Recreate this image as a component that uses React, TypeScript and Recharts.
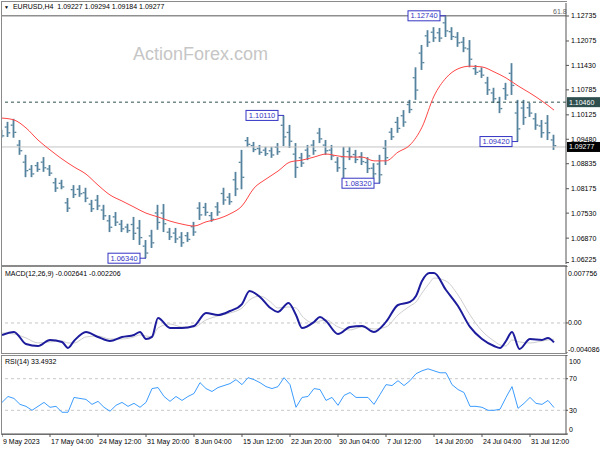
import React from "react";
import { ComposedChart, Bar, Line, XAxis, YAxis, ReferenceLine, ReferenceDot } from "recharts";

// ---- data (sampled every 4th H4 bar) ----
const PRICE_HIGH = [
  1.0973, 1.0994, 1.1002, 1.0946, 1.0907, 1.0880, 1.0888, 1.0901, 1.0880, 1.0846,
  1.0841, 1.0793, 1.0827, 1.0827, 1.0820, 1.0788, 1.0801, 1.0775, 1.0748, 1.0756,
  1.0735, 1.0725, 1.0743, 1.0735, 1.0682, 1.0709, 1.0775, 1.0777, 1.0714, 1.0714,
  1.0703, 1.0703, 1.0730, 1.0782, 1.0780, 1.0756, 1.0782, 1.0820, 1.0806, 1.0862,
  1.0920, 1.0954, 1.0941, 1.0933, 1.0928, 1.0928, 1.0938, 1.1011, 1.0986, 1.0938,
  1.0912, 1.0933, 1.0946, 1.0978, 1.0946, 1.0933, 1.0901, 1.0928, 1.0928, 1.0920,
  1.0914, 1.0901, 1.0885, 1.0907, 1.0946, 1.0978, 1.1007, 1.1025, 1.1052, 1.1138,
  1.1197, 1.1236, 1.1244, 1.1242, 1.1274, 1.1244, 1.1231, 1.1218, 1.1210, 1.1144,
  1.1138, 1.1113, 1.1084, 1.1060, 1.1097, 1.1149, 1.1052, 1.1052, 1.1044, 1.1017,
  1.0999, 1.1012, 1.0960,
];
const PRICE_LOW = [
  1.0952, 1.0954, 1.0952, 1.0907, 1.0848, 1.0848, 1.0862, 1.0862, 1.0851, 1.0809,
  1.0816, 1.0756, 1.0793, 1.0796, 1.0782, 1.0756, 1.0761, 1.0735, 1.0703, 1.0719,
  1.0703, 1.0701, 1.0682, 1.0669, 1.0634, 1.0661, 1.0709, 1.0703, 1.0682, 1.0674,
  1.0664, 1.0677, 1.0693, 1.0735, 1.0746, 1.0730, 1.0746, 1.0775, 1.0775, 1.0798,
  1.0816, 1.0928, 1.0914, 1.0907, 1.0904, 1.0899, 1.0907, 1.0930, 1.0925, 1.0846,
  1.0875, 1.0893, 1.0907, 1.0938, 1.0907, 1.0893, 1.0862, 1.0846, 1.0893, 1.0885,
  1.0880, 1.0859, 1.0846, 1.0832, 1.0880, 1.0946, 1.0965, 1.0981, 1.1017, 1.1052,
  1.1131, 1.1192, 1.1205, 1.1205, 1.1218, 1.1210, 1.1192, 1.1178, 1.1138, 1.1118,
  1.1110, 1.1065, 1.1044, 1.1017, 1.1052, 1.1065, 1.0942, 1.0986, 1.1007, 1.0973,
  1.0952, 1.0946, 1.0920,
];
// moving average, every 8th bar
const MA_VALUES = [
  1.1004, 1.0999, 1.0978, 1.0946, 1.0920, 1.0896, 1.0875, 1.0856, 1.0827, 1.0801,
  1.0785, 1.0769, 1.0753, 1.0743, 1.0732, 1.0724, 1.0719, 1.0730, 1.0738, 1.0751,
  1.0772, 1.0819, 1.0843, 1.0864, 1.0888, 1.0893, 1.0901, 1.0909, 1.0904, 1.0901,
  1.0901, 1.0891, 1.0891, 1.0914, 1.0933, 1.0980, 1.1062, 1.1110, 1.1134, 1.1141,
  1.1139, 1.1126, 1.1110, 1.1089, 1.1070, 1.1049, 1.1025,
];
const MACD_BARS = [
  0, 8, 16, 24, 32, 40, 44, 48, 56, 64, 72, 80, 88, 92, 96, 100, 104, 112, 120, 128,
  136, 144, 152, 160, 165, 172, 179, 184, 191, 196, 200, 208, 212, 216, 224, 232, 240,
  248, 256, 264, 272, 276, 280, 285, 288, 296, 304, 312, 320, 328, 332, 336, 340, 345,
  352, 360, 364, 368,
];
const MACD_MAIN = [
  -0.00163, -0.00122, -0.00286, -0.00313, -0.00231, -0.00258, -0.0034, -0.00245, -0.00122, -0.0019,
  -0.00245, -0.0019, -0.00163, -0.00122, -0.00218, -0.0019, 0.00068, -0.00068, -0.00068, -0.00041,
  0.00136, 0.00109, 0.00163, 0.00258, 0.00435, 0.00354, 0.00204, 0.0015, 0.00272, 0.00109,
  -0.00068, 0.00014, 0.00082, 0.00027, -0.0015, -0.00054, -0.00041, -0.00122, 0.00014, 0.00245,
  0.00286, 0.00367, 0.00571, 0.0068, 0.0068, 0.00449, 0.00231, -0.00054, -0.00218, -0.00313,
  -0.0034, -0.00245, -0.00122, -0.00354, -0.00218, -0.00231, -0.00204, -0.00264,
];
const MACD_SIGNAL = [
  -0.00136, -0.0015, -0.00204, -0.00272, -0.00258, -0.00245, -0.00272, -0.00272, -0.0019, -0.00177,
  -0.00218, -0.00218, -0.0019, -0.00163, -0.00177, -0.0019, -0.00068, -0.00014, -0.00054, -0.00054,
  0.00041, 0.00095, 0.00136, 0.00204, 0.00313, 0.00367, 0.00286, 0.00204, 0.00218, 0.00204,
  0.00095, 0.0, 0.00027, 0.00041, -0.00054, -0.00095, -0.00054, -0.00082, -0.00054, 0.00109,
  0.00231, 0.00286, 0.00408, 0.00544, 0.00612, 0.00571, 0.00381, 0.00109, -0.00109, -0.00245,
  -0.00299, -0.00313, -0.00231, -0.00258, -0.00272, -0.00245, -0.00231, -0.00221,
];
// RSI(14), every 4th bar
const RSI_VALUES = [
  40, 47.5, 45, 37.5, 35, 30, 35, 40, 33.8, 35,
  27.5, 27.5, 46.3, 45, 43.8, 37.5, 41.3, 33.8, 28.8, 36.3,
  40, 35, 38.8, 33.8, 40, 57.5, 58.8, 47.5, 41.3, 47.5,
  42.5, 47.5, 51.3, 65, 57.5, 53.8, 58.8, 61.3, 63.8, 68.8,
  62.5, 71.3, 68.8, 65, 60, 57.5, 60, 71.3, 62.5, 33.8,
  46.3, 47.5, 57.5, 56.3, 42.5, 46.3, 36.3, 48.8, 52.5, 46.3,
  46.3, 46.3, 37.5, 50, 62.5, 61.3, 67.5, 61.3, 67.5, 76.3,
  80, 82.5, 80, 77.5, 77.5, 62.5, 56.3, 52.5, 35, 35,
  33.8, 30, 30, 31.3, 46.3, 60, 32.5, 38.8, 46.3, 38.8,
  37.5, 42.5, 33.5,
];
const TIME_TICKS = [0, 32, 64, 96, 128, 160, 192, 224, 256, 288, 320, 352];
const TIME_LABELS = [
  "9 May 2023", "17 May 04:00", "24 May 12:00", "31 May 20:00", "8 Jun 04:00", "15 Jun 12:00",
  "22 Jun 20:00", "30 Jun 04:00", "7 Jul 12:00", "14 Jul 20:00", "24 Jul 04:00", "31 Jul 12:00",
];
const PRICE_TICKS = [1.12735, 1.12075, 1.1143, 1.10785, 1.10125, 1.0948, 1.08835, 1.08175, 1.0753, 1.0687, 1.06225];
const MACD_TICKS = [0.007756, 0, -0.004086];
const RSI_TICKS = [100, 70, 30, 0];
const ANNOT_BARS = [188, 96, 252, 296, 344];
const ANNOT_PRICES = [1.1011, 1.0634, 1.0832, 1.1274, 1.0942];
const FIB_LEVEL = 1.1274;
const RESIST_LEVEL = 1.1046;
const LAST_PRICE = 1.09277;

const STEP = 4;
const priceData = PRICE_HIGH.map((h, i) => ({
  bar: i * STEP,
  range: [PRICE_LOW[i], h],
  ma: i % 2 === 0 ? MA_VALUES[i / 2] : null,
}));
const macdData = MACD_BARS.map((b, i) => ({ bar: b, main: MACD_MAIN[i], signal: MACD_SIGNAL[i] }));
const rsiData = RSI_VALUES.map((v, i) => ({ bar: i * STEP, rsi: v }));

const FONT = '"Liberation Sans", Arial, sans-serif';
const BAR_COLOR = "#55839d";
const ANN_COLOR = "#3434c4";
const AXIS_COLOR = "#555";

const PriceBar = (props: any) => {
  const { x, y, width, height } = props;
  if (x == null || y == null) return null;
  const cx = x + width / 2;
  const top = height < 0 ? y + height : y;
  const h = Math.max(Math.abs(height), 1);
  return (
    <g fill={BAR_COLOR}>
      <rect x={cx - 0.9} y={top} width={1.8} height={h} />
      <rect x={cx - 2.8} y={top + h * 0.3} width={2} height={1.3} />
      <rect x={cx + 0.8} y={top + h * 0.68} width={2} height={1.3} />
    </g>
  );
};

const makeYTick = (fmt: (v: number) => string, shift: (v: number) => number) => (p: any) => (
  <text
    x={p.x}
    y={p.y + shift(p.payload.value)}
    dy={2.5}
    fontSize={7}
    fontFamily={FONT}
    fill="#000"
    textAnchor="start"
  >
    {fmt(p.payload.value)}
  </text>
);

const XTick = (p: any) => {
  const idx = TIME_TICKS.indexOf(p.payload.value);
  return (
    <text x={p.x + 1} y={p.y} dy={7} fontSize={7} fontFamily={FONT} fill="#000" textAnchor="start">
      {TIME_LABELS[idx]}
    </text>
  );
};

const AxisTag = (props: any) => {
  const { viewBox, text, bg } = props;
  if (!viewBox) return null;
  const x = viewBox.x + viewBox.width + 1;
  const y = viewBox.y;
  return (
    <g>
      <rect x={x} y={y - 5} width={33} height={10} fill={bg} />
      <text x={x + 2} y={y + 2.5} fontSize={7} fontFamily={FONT} fill="#fff">
        {text}
      </text>
    </g>
  );
};

const FibLabel = (props: any) => {
  const { viewBox } = props;
  if (!viewBox) return null;
  return (
    <text x={viewBox.x + viewBox.width - 13} y={viewBox.y - 2} fontSize={7} fontFamily={FONT} fill="#666">
      61.8
    </text>
  );
};

const makeAnnot = (label: string) => (p: any) => {
  const { cx, cy } = p;
  if (cx == null || cy == null) return null;
  const right = cx - 6;
  return (
    <g>
      <line x1={right} y1={cy} x2={cx} y2={cy} stroke={ANN_COLOR} strokeWidth={1} />
      <rect x={right - 32} y={cy - 5} width={32} height={10} fill="#fff" stroke={ANN_COLOR} strokeWidth={1} />
      <text x={right - 16} y={cy + 2.5} fontSize={7.5} fontFamily={FONT} fill={ANN_COLOR} textAnchor="middle">
        {label}
      </text>
    </g>
  );
};

const frame = (top: number, height: number): React.CSSProperties => ({
  position: "absolute",
  left: 1,
  top,
  width: 566,
  height,
  boxSizing: "border-box",
  borderLeft: "1px solid #8a8a8a",
  borderTop: "1px solid #8a8a8a",
  borderBottom: "1px solid #8a8a8a",
});

const textStyle = (left: number, top: number, size: number, color: string): React.CSSProperties => ({
  position: "absolute",
  left,
  top,
  fontFamily: FONT,
  fontSize: size,
  color,
  lineHeight: `${size + 1}px`,
  whiteSpace: "nowrap",
});

export default function App() {
  return (
    <div style={{ position: "absolute", left: 0, top: 0, width: 600, height: 450, background: "#fff", overflow: "hidden" }}>
      <div style={frame(1, 265)} />
      <div style={frame(266, 88)} />
      <div style={frame(355, 80)} />
      <div style={textStyle(133, 45, 18, "#c6c6c6")}>ActionForex.com</div>

      <div style={{ position: "absolute", left: 2, top: 3 }}>
        <ComposedChart width={598} height={261} data={priceData} margin={{ top: 0, right: 0, bottom: 0, left: 0 }}>
          <XAxis dataKey="bar" type="number" domain={[0, 376]} hide allowDataOverflow />
          <YAxis
            orientation="right"
            width={34}
            domain={[1.06187, 1.13078]}
            allowDataOverflow
            ticks={PRICE_TICKS}
            interval={0}
            tickSize={3}
            tickMargin={2}
            stroke={AXIS_COLOR}
            tick={makeYTick((v) => v.toFixed(5), (v) => (v < 1.063 ? -3 : 0))}
          />
          <ReferenceLine y={FIB_LEVEL} stroke="#8f8f8f" strokeWidth={1.5} label={<FibLabel />} />
          <ReferenceLine
            y={RESIST_LEVEL}
            stroke="#2f4f4f"
            strokeDasharray="3 3"
            label={<AxisTag text={RESIST_LEVEL.toFixed(5)} bg="#2f4f4f" />}
          />
          <ReferenceLine y={LAST_PRICE} stroke="#c4c4c4" label={<AxisTag text={LAST_PRICE.toFixed(5)} bg="#000" />} />
          <Bar dataKey="range" barSize={3} shape={<PriceBar />} isAnimationActive={false} />
          <Line
            dataKey="ma"
            type="monotone"
            stroke="#ff4646"
            strokeWidth={1}
            dot={false}
            connectNulls
            isAnimationActive={false}
          />
          {ANNOT_BARS.map((b, i) => (
            <ReferenceDot
              key={b}
              x={b}
              y={ANNOT_PRICES[i]}
              r={1}
              shape={makeAnnot(ANNOT_PRICES[i].toFixed(5))}
            />
          ))}
        </ComposedChart>
      </div>

      <div style={{ position: "absolute", left: 2, top: 266 }}>
        <ComposedChart width={598} height={87} data={macdData} margin={{ top: 0, right: 0, bottom: 0, left: 0 }}>
          <XAxis dataKey="bar" type="number" domain={[0, 376]} hide allowDataOverflow />
          <YAxis
            orientation="right"
            width={34}
            domain={[-0.004086, 0.007756]}
            allowDataOverflow
            ticks={MACD_TICKS}
            interval={0}
            tickSize={2}
            tickMargin={0}
            stroke={AXIS_COLOR}
            tick={makeYTick(
              (v) => (v === 0 ? "0.00" : v.toFixed(6)),
              (v) => (v > 0 ? 7 : v < 0 ? -4 : 0)
            )}
          />
          <ReferenceLine y={0} stroke="#c4c4c4" strokeDasharray="3 3" />
          <Line dataKey="signal" type="monotone" stroke="#cfcfcf" strokeWidth={1} dot={false} isAnimationActive={false} />
          <Line dataKey="main" type="monotone" stroke="#1c1c9c" strokeWidth={2} dot={false} isAnimationActive={false} />
        </ComposedChart>
      </div>

      <div style={{ position: "absolute", left: 2, top: 355 }}>
        <ComposedChart width={598} height={95} data={rsiData} margin={{ top: 0, right: 0, bottom: 0, left: 0 }}>
          <XAxis
            dataKey="bar"
            type="number"
            domain={[0, 376]}
            allowDataOverflow
            ticks={TIME_TICKS}
            interval={0}
            height={16}
            tickSize={3}
            tickMargin={0}
            stroke={AXIS_COLOR}
            tick={<XTick />}
          />
          <YAxis
            orientation="right"
            width={34}
            domain={[0, 100]}
            allowDataOverflow
            ticks={RSI_TICKS}
            interval={0}
            tickSize={2}
            tickMargin={1}
            stroke={AXIS_COLOR}
            tick={makeYTick((v) => String(v), (v) => (v === 100 ? 6 : v === 0 ? -5 : 0))}
          />
          <ReferenceLine y={70} stroke="#c8c8c8" strokeDasharray="3 3" />
          <ReferenceLine y={30} stroke="#c8c8c8" strokeDasharray="3 3" />
          <Line dataKey="rsi" type="linear" stroke="#3c9cff" strokeWidth={1} dot={false} isAnimationActive={false} />
        </ComposedChart>
      </div>

      <div style={textStyle(4, 3, 7, "#000")}>
        <span style={{ fontSize: 5, marginRight: 4 }}>▼</span>EURUSD,H4&nbsp; 1.09227 1.09294 1.09184 1.09277
      </div>
      <div style={textStyle(5, 270, 7, "#000")}>MACD(12,26,9) -0.002641 -0.002206</div>
      <div style={textStyle(5, 358, 7, "#000")}>RSI(14) 33.4932</div>
    </div>
  );
}
